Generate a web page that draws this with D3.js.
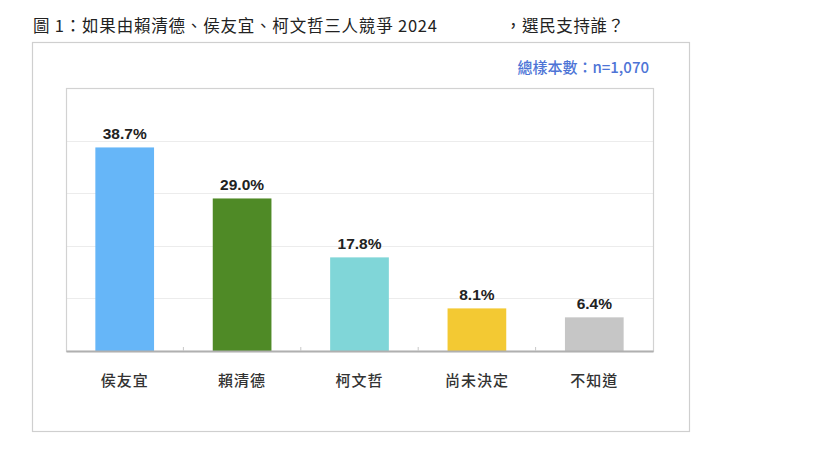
<!DOCTYPE html>
<html><head><meta charset="utf-8">
<script src="https://cdn.jsdelivr.net/npm/d3@7"></script>
<style>body{margin:0;background:#fff}svg{display:block}</style>
</head><body>
<svg id="c" width="819" height="460"></svg>
<script>
const categories = ["侯友宜", "賴清德", "柯文哲", "尚未決定", "不知道"];
const values = [38.7, 29.0, 17.8, 8.1, 6.4];
const valueLabels = ["38.7%", "29.0%", "17.8%", "8.1%", "6.4%"];
const colors = ["#66b6f8", "#4f8a26", "#80d6d8", "#f3c933", "#c6c6c6"];
const gridTicks = [10, 20, 30, 40, 50];
const titleLeft = "圖 1：如果由賴清德、侯友宜、柯文哲三人競爭 2024";
const titleRight = "，選民支持誰？";
const sampleNote = "總樣本數：n=1,070";

const svg = d3.select("#c");
const cjk = "'Noto Sans CJK TC','Noto Sans CJK SC',sans-serif";

// title
svg.append("text").attr("x", 33).attr("y", 32).attr("font-family", cjk)
  .attr("font-size", 16.5).attr("letter-spacing", 0.8).attr("fill", "#222").text(titleLeft);
svg.append("text").attr("x", 505).attr("y", 32).attr("font-family", cjk)
  .attr("font-size", 16.5).attr("letter-spacing", 0.6).attr("fill", "#222").text(titleRight);

// outer frame
svg.append("rect").attr("x", 32.5).attr("y", 42.5).attr("width", 657).attr("height", 389)
  .attr("fill", "none").attr("stroke", "#cfcfcf").attr("stroke-width", 1.2);

// note
svg.append("text").attr("x", 649).attr("y", 73).attr("text-anchor", "end")
  .attr("font-family", cjk).attr("font-size", 15).attr("font-weight", 500).attr("fill", "#4d74d6").text(sampleNote);

const L = 66, R = 653, T = 88, B = 351;
const x = d3.scaleBand().domain(categories).range([L, R]).paddingInner(0.5).paddingOuter(0.25);
const y = d3.scaleLinear().domain([0, 50]).range([B, T]);

// grid
svg.append("g").selectAll("line").data(gridTicks.slice(0, -1)).join("line")
  .attr("x1", L).attr("x2", R).attr("y1", d => Math.round(y(d)) + 0.5).attr("y2", d => Math.round(y(d)) + 0.5)
  .attr("stroke", "#ececec").attr("stroke-width", 1);

// plot border
svg.append("rect").attr("x", L + 0.5).attr("y", T + 0.5).attr("width", R - L).attr("height", B - T)
  .attr("fill", "none").attr("stroke", "#d2d2d2").attr("stroke-width", 1.2);

// bars
svg.append("g").selectAll("rect").data(values).join("rect")
  .attr("x", (d, i) => x(categories[i])).attr("width", x.bandwidth())
  .attr("y", d => y(d)).attr("height", d => B - y(d))
  .attr("fill", (d, i) => colors[i]);

// bottom axis
const xAxis = d3.axisBottom(x).tickSize(0).tickFormat("");
const ax = svg.append("g").attr("transform", `translate(0,${B})`).call(xAxis);
ax.select(".domain").attr("stroke", "#b0b0b0").attr("stroke-width", 2);
// category separators (small inner ticks)
const step = x.step();
svg.append("g").selectAll("line").data(d3.range(1, categories.length)).join("line")
  .attr("x1", i => L + step * i).attr("x2", i => L + step * i)
  .attr("y1", B - 4).attr("y2", B).attr("stroke", "#c8c8c8").attr("stroke-width", 1);

// category labels
svg.append("g").selectAll("text").data(categories).join("text")
  .attr("x", d => x(d) + x.bandwidth() / 2).attr("y", 386).attr("text-anchor", "middle")
  .attr("font-family", cjk).attr("font-size", 15).attr("font-weight", 500).attr("fill", "#333").attr("letter-spacing", 1).text(d => d);

// value labels
svg.append("g").selectAll("text").data(values).join("text")
  .attr("x", (d, i) => x(categories[i]) + x.bandwidth() / 2).attr("y", d => y(d) - 8)
  .attr("text-anchor", "middle").attr("font-family", "'Liberation Sans',Arial,sans-serif")
  .attr("font-weight", "bold").attr("font-size", 15.5).attr("fill", "#222")
  .text((d, i) => valueLabels[i]);
</script>
</body></html>
